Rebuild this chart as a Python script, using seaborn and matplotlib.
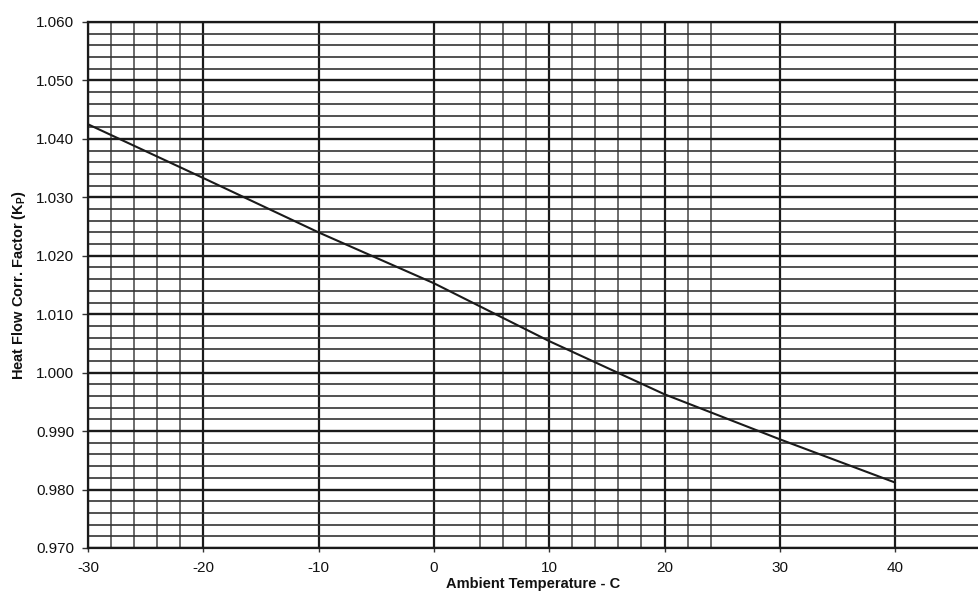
import matplotlib
matplotlib.use("Agg")
import matplotlib.pyplot as plt
import seaborn as sns
import pandas as pd
import numpy as np
from matplotlib.ticker import FixedLocator, MultipleLocator

# Data
temperature_c = [-30, -20, -10, 0, 10, 20, 30, 40]
heat_flow_kp = [1.0425, 1.0333, 1.0240, 1.0153, 1.0054, 0.9963, 0.9886, 0.9812]

x_major_ticks = [-30, -20, -10, 0, 10, 20, 30, 40]
x_minor_grid = [-28, -26, -24, -22, 4, 6, 8, 12, 14, 16, 18, 22, 24]
y_major_ticks = [0.970, 0.980, 0.990, 1.000, 1.010, 1.020, 1.030, 1.040, 1.050, 1.060]

sns.set_theme(style="white")
plt.rcParams['font.family'] = ['Liberation Sans', 'DejaVu Sans']

df = pd.DataFrame({"Ambient Temperature - C": temperature_c, "Kp": heat_flow_kp})

fig = plt.figure(figsize=(9.79, 5.99), dpi=100)
ax = fig.add_axes([88/979, 51/599, 1 - 88/979, (548-22)/599])

ax.set_xlim(-30, -30 + (979 - 88) / 11.53)
ax.set_ylim(0.970, 1.060)

ax.xaxis.set_major_locator(FixedLocator(x_major_ticks))
ax.xaxis.set_minor_locator(FixedLocator(x_minor_grid))
ax.yaxis.set_major_locator(FixedLocator(y_major_ticks))
ax.yaxis.set_minor_locator(MultipleLocator(0.002))

ax.grid(which="major", axis="x", color="#1a1a1a", linewidth=1.6)
ax.grid(which="minor", axis="x", color="#444444", linewidth=1.1)
ax.grid(which="major", axis="y", color="#1a1a1a", linewidth=1.7)
ax.grid(which="minor", axis="y", color="#333333", linewidth=1.2)
ax.set_axisbelow(True)

sns.lineplot(data=df, x="Ambient Temperature - C", y="Kp", ax=ax,
             color="#1a1a1a", linewidth=1.5)

ax.set_yticklabels([f"{v:.3f}" for v in y_major_ticks])
ax.set_xticklabels([str(v) for v in x_major_ticks])
ax.tick_params(axis="y", which="major", direction="out", length=4, width=1,
               color="#333333", left=True, labelsize=11, pad=6, labelcolor="#111111")
ax.tick_params(axis="x", which="major", direction="out", length=3, width=1,
               color="#333333", bottom=True, labelsize=11, pad=6, labelcolor="#111111")
ax.tick_params(which="minor", length=0)

for side in ["left", "bottom", "top"]:
    ax.spines[side].set_color("#1a1a1a")
    ax.spines[side].set_linewidth(1.6)
ax.spines["right"].set_visible(False)

ax.set_xlabel("Ambient Temperature - C", fontsize=10.5, fontweight="bold",
              color="#111111", labelpad=2)
ax.set_ylabel(r"Heat Flow Corr. Factor (K$_\mathregular{P}$)", fontsize=10.5,
              fontweight="bold", color="#111111", labelpad=6)

fig.savefig("out.png", dpi=100)
